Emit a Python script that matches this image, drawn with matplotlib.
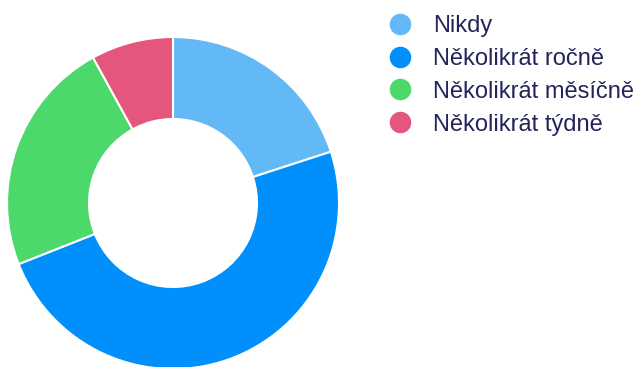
import matplotlib.pyplot as plt
from matplotlib.lines import Line2D

labels = ["Nikdy", "Několikrát ročně", "Několikrát měsíčně", "Několikrát týdně"]
values = [20, 49, 23, 8]
colors = ["#63b9f5", "#008ffb", "#4cd86b", "#e5567c"]
text_color = "#24245a"

plt.rcParams["font.family"] = ["Liberation Sans", "DejaVu Sans"]

fig = plt.figure(figsize=(6.42, 3.67), dpi=100)
ax = fig.add_axes([0, 0, 1, 1])

ax.pie(values, colors=colors, startangle=90, counterclock=False,
       center=(173, 164), radius=166,
       wedgeprops=dict(width=82, edgecolor="white", linewidth=1.5))
ax.set_xlim(0, 642)
ax.set_ylim(0, 367)
ax.set_aspect("equal")
ax.axis("off")

handles = [Line2D([], [], marker="o", linestyle="none", markersize=14.5,
                  markerfacecolor=c, markeredgecolor=c) for c in colors]
leg = ax.legend(handles, labels, loc="upper left", bbox_to_anchor=(388 / 642, 1 - 15 / 367),
                frameon=False, fontsize=17, labelcolor=text_color,
                handlelength=1.0, handletextpad=0.9, labelspacing=0.46,
                borderaxespad=0, borderpad=0)

fig.savefig("out.png", dpi=100)
